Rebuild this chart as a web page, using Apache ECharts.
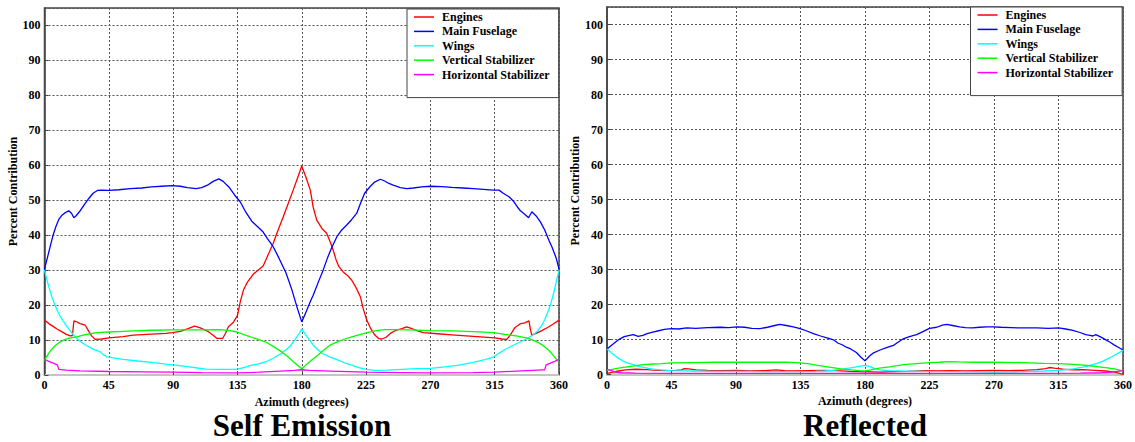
<!DOCTYPE html>
<html>
<head>
<meta charset="utf-8">
<title>Percent Contribution by Azimuth</title>
<script src="https://cdn.jsdelivr.net/npm/echarts@6/dist/echarts.min.js"></script>
<style>
  html, body { margin: 0; padding: 0; background: #fff; }
  #chart { width: 1135px; height: 442px; }
</style>
</head>
<body>
<div id="chart"></div>
<script>
// Component names, in legend order
const components = ['Engines', 'Main Fuselage', 'Wings', 'Vertical Stabilizer', 'Horizontal Stabilizer'];
const componentColors = ['#ff0000', '#0000ff', '#00ffff', '#00ff00', '#ff00ff'];

// Axis ticks
const azimuthTicks = [0, 45, 90, 135, 180, 225, 270, 315, 360];
const percentTicks = [0, 10, 20, 30, 40, 50, 60, 70, 80, 90, 100];

// ---- Self emission: [azimuth (deg), percent contribution] ----
const selfEngines = [
  [0,15.7],[3,14.7],[6,13.9],[9,13.1],[12,12.4],[15,11.7],[18,11.2],[19.5,11.3],[20.6,15.5],[22,15.3],
  [25,14.7],[28.4,14.3],[31,12.5],[33,11.2],[35.4,10.2],[40,10.3],[45,10.6],[55,11.0],[62,11.4],[75,11.7],
  [85,11.9],[89.5,12.1],[95,12.5],[100,13.2],[105,14.0],[109,13.5],[114.7,12.4],[118,11.4],[120.5,10.5],[124.7,10.5],
  [126.5,11.8],[128.7,13.8],[132,15.0],[135,17.0],[137,21.0],[139.2,24.3],[142,26.6],[146,28.8],[150,30.2],[153,31.2],
  [156,34.0],[160,37.6],[163,41.0],[167,45.2],[170,48.5],[174,52.9],[177,56.3],[180,59.8],
  [183,56.5],[186,52.9],[188,48.0],[190.5,44.3],[194,42.0],[197.5,40.5],[200,38.0],[202,35.7],[204,33.0],[206,31.0],
  [209,29.5],[212,28.5],[215,27.1],[218,25.0],[221,22.4],[223,19.0],[225.5,15.7],[228,13.5],[231,11.5],[234,10.4],
  [236,10.3],[239,10.8],[242,11.9],[246,12.8],[250,13.3],[253.5,13.8],[257,13.3],[261,12.6],[265,12.1],[275,11.8],
  [285,11.5],[295,11.2],[305,10.9],[315,10.6],[320,10.3],[323.5,10.2],[326,11.5],[329,13.5],[332.7,14.6],[336,14.9],
  [339,15.5],[340,13.0],[341,11.4],[344,11.9],[348,12.7],[352,13.6],[356,14.6],[360,15.7]
];
const selfFuselage = [
  [0,30.3],[2,33.5],[4,36.8],[6,40.0],[8,42.5],[10,44.5],[12,45.6],[14,46.3],[17,47.0],[19,46.2],
  [20.5,45.0],[22,45.5],[25,47.0],[28,48.8],[31,50.5],[34,52.0],[37,52.8],[40,52.9],[45,52.8],[52,53.0],
  [60,53.3],[68,53.5],[75,53.8],[82,54.0],[89,54.2],[95,54.0],[100,53.6],[106,53.3],[110,53.6],[114,54.3],
  [118,55.4],[122,56.1],[125,55.4],[129,53.8],[133,51.5],[137,49.5],[141,46.5],[145,44.0],[149,42.5],[153,40.9],
  [156,39.0],[160,36.7],[164,33.5],[169,29.2],[173,24.5],[177,19.0],[180,15.2],
  [183,18.0],[186,21.0],[188,22.8],[192,27.0],[195,30.0],[198,33.5],[201,36.5],[204.5,39.5],[208,41.5],[211.5,42.9],
  [215,44.5],[218.5,46.3],[221,49.0],[224,52.0],[228,54.0],[231,55.2],[235,56.0],[238,55.5],[241,54.8],[244,54.3],
  [249,53.6],[253.5,53.3],[258,53.5],[264,53.8],[270,54.0],[278,53.9],[285,53.7],[293,53.5],[300,53.3],[307,53.1],
  [314,52.9],[318,52.9],[321,52.0],[325,51.0],[328,49.8],[331,48.0],[333,47.0],[336,46.0],[338.7,45.0],[341,46.7],
  [344,45.5],[347,43.8],[350,41.5],[353,38.5],[355,36.7],[358,33.5],[360,30.3]
];
const selfWings = [
  [0,30.0],[1.5,27.5],[3,25.3],[5,22.5],[7,20.3],[9,18.4],[11,16.8],[13,15.5],[15,14.3],[17,13.2],
  [20,11.6],[23,10.3],[26,9.3],[30,8.3],[34,7.4],[37,7.0],[39,6.6],[41,5.9],[43.5,5.2],[48,4.9],
  [55,4.5],[65,4.0],[75,3.6],[85,3.1],[90,2.9],[100,2.4],[107,2.0],[113,1.7],[120,1.6],[128,1.6],
  [135,1.7],[140,2.2],[145,2.8],[150,3.2],[155,3.8],[160,4.8],[165,6.0],[169,7.2],[172,8.3],[175,10.0],
  [178,11.8],[180,13.2],
  [182,12.0],[185,10.2],[188,8.6],[191,7.3],[195,6.0],[200,5.1],[205,4.3],[210,3.5],[215,2.8],[220,2.1],
  [225,1.6],[231,1.3],[240,1.4],[250,1.6],[260,1.8],[270,1.9],[280,2.3],[290,2.8],[300,3.6],[308,4.4],
  [314,5.1],[318,6.2],[323,7.5],[328,8.5],[332,9.3],[337,10.3],[342,11.5],[345,12.6],[348,14.3],[350,15.8],
  [352,17.8],[354,20.0],[356,23.0],[358,26.5],[360,30.0]
];
const selfVertStab = [
  [0,4.2],[2,5.6],[4,6.8],[6,7.8],[8,8.6],[11,9.5],[14,10.1],[18,10.6],[22.5,10.9],[27,11.4],
  [32,11.8],[36.5,12.1],[45,12.3],[55,12.5],[62,12.6],[75,12.8],[89.5,12.9],[100,12.9],[110,12.9],[120.5,13.0],
  [125,12.9],[130,12.7],[134.5,12.3],[140,11.5],[145,10.8],[150,10.1],[155.5,9.3],[160,8.2],[165,6.9],[169.5,5.5],
  [173,4.2],[177,2.8],[180,1.8],
  [183,2.9],[187,4.3],[191,5.6],[195,7.0],[200,8.6],[205,9.5],[210,10.3],[215,10.9],[220,11.5],[225.5,12.1],
  [232,12.7],[238,13.0],[245,13.0],[255,12.9],[270,12.7],[285,12.6],[300,12.4],[314,12.1],[322,11.6],[330,11.2],
  [337,10.6],[342,10.0],[346,9.2],[350,8.1],[353,7.0],[356,5.6],[358.5,4.3],[360,3.8]
];
const selfHorizStab = [
  [0,4.5],[3,3.9],[6,3.4],[9,2.9],[10,1.6],[15,1.4],[25,1.2],[45,1.0],[70,0.9],[90,0.8],
  [110,0.7],[135,0.6],[150,0.8],[165,1.1],[175,1.3],[180,1.5],
  [185,1.3],[200,1.1],[225,0.8],[250,0.7],[270,0.6],[300,0.7],[315,0.8],[330,1.1],[345,1.4],[350,1.5],
  [351,2.9],[354,3.4],[357,3.9],[360,4.5]
];

// ---- Reflected: [azimuth (deg), percent contribution] ----
const reflEngines = [
  [0,0.3],[4,0.7],[8,1.0],[13,1.3],[20,1.5],[28,1.4],[35,1.2],[42,1.1],[48,1.2],[52,1.3],
  [54,1.7],[57,1.6],[62,1.3],[70,1.2],[80,1.1],[90,1.2],[100,1.0],[110,1.1],[118,1.3],[124,1.1],
  [130,1.0],[140,1.1],[150,1.2],[160,1.1],[170,0.9],[180,0.8],[190,0.7],[200,0.8],[210,0.9],[220,1.1],
  [230,1.0],[240,1.1],[250,1.0],[260,1.1],[270,1.2],[280,1.1],[290,1.2],[300,1.4],[306,1.7],[309,2.0],
  [312,1.8],[318,1.5],[325,1.3],[332,1.4],[340,1.2],[348,1.0],[354,0.7],[357,0.4],[360,0.0]
];
const reflFuselage = [
  [0,7.3],[3,8.3],[6,9.3],[9,10.2],[12,10.8],[15,11.1],[18.4,11.4],[21.8,10.9],[25,11.2],[28,11.7],
  [32,12.1],[36,12.5],[40,12.9],[45,13.1],[50,13.0],[55.6,13.3],[62,13.2],[70,13.4],[79,13.5],[85,13.4],
  [90.5,13.6],[96,13.5],[101,13.2],[106.7,13.1],[112,13.5],[117,14.0],[120.7,14.3],[125,14.0],[130,13.6],[134.7,13.1],
  [139,12.5],[144,11.7],[149,11.0],[154,10.4],[158,9.9],[161,9.0],[164,8.5],[167,7.8],[170,7.3],[174,6.3],
  [177,5.0],[180,3.9],
  [183,5.2],[186,6.2],[190.5,7.0],[195,7.7],[199.8,8.3],[203,9.2],[206.7,10.2],[211,10.8],[216,11.4],[220,12.2],
  [225,13.2],[230,13.5],[234,14.1],[237,14.3],[241,14.0],[246,13.6],[250,13.4],[255,13.3],[260,13.5],[265,13.6],
  [269.5,13.6],[275,13.5],[282,13.4],[288,13.3],[292.8,13.3],[300,13.3],[308,13.2],[315,13.3],[320,13.0],[325,12.6],
  [330,12.0],[334,11.4],[337,11.2],[339,11.0],[341,11.4],[345,10.6],[348,9.9],[351,9.2],[354,8.4],[357,7.7],
  [360,7.0]
];
const reflWings = [
  [0,7.3],[3,6.2],[6,5.2],[9,4.4],[12,3.7],[15,3.2],[18.4,2.8],[22,2.3],[27,1.9],[32,1.5],
  [38,1.3],[45,1.1],[60,1.0],[75,0.9],[90,0.9],[110,0.8],[135,0.8],[145,0.9],[152,1.0],[158,1.2],
  [165,1.6],[170,1.9],[174,2.2],[177,2.4],[180,2.6],[183,2.3],[186,1.8],[190,1.3],[196,1.1],[205,1.0],
  [222,0.9],[245,0.8],[270,0.7],[290,0.8],[305,1.0],[315,1.2],[325,1.6],[332,2.1],[337,2.6],[342,3.2],
  [346,3.8],[351,4.8],[355,5.7],[358,6.4],[360,6.9]
];
const reflVertStab = [
  [0,1.2],[3,1.4],[6,1.7],[9,1.9],[14,2.2],[18,2.4],[25,2.8],[32,3.0],[38,3.1],[45,3.3],
  [60,3.4],[75,3.5],[90,3.5],[105,3.5],[115,3.5],[125,3.5],[132,3.4],[140,3.1],[147,2.6],[155,2.1],
  [163,1.6],[170,1.3],[176,1.1],[180,1.0],[184,1.3],[190,1.8],[197,2.2],[207,2.8],[216,3.1],[225,3.4],
  [232,3.5],[237,3.7],[245,3.6],[255,3.5],[270,3.5],[290,3.4],[305,3.2],[315,3.1],[325,2.9],[332,2.7],
  [337,2.5],[343,2.2],[349,1.9],[354,1.6],[358,1.2],[360,1.0]
];
const reflHorizStab = [
  [0,1.5],[3,1.1],[6,0.7],[10,0.5],[20,0.4],[45,0.3],[90,0.3],[135,0.3],[160,0.3],[180,0.4],
  [200,0.3],[250,0.3],[300,0.3],[330,0.4],[345,0.5],[352,0.7],[356,0.9],[360,1.1]
];

const selfSeriesData = [selfEngines, selfFuselage, selfWings, selfVertStab, selfHorizStab];
const reflSeriesData = [reflEngines, reflFuselage, reflWings, reflVertStab, reflHorizStab];

const SERIF = 'Liberation Serif, Times New Roman, serif';

function xAxisFor(gridIndex) {
  return {
    type: 'value', gridIndex: gridIndex,
    min: azimuthTicks[0], max: azimuthTicks[azimuthTicks.length - 1], interval: 45,
    name: 'Azimuth (degrees)', nameLocation: 'middle', nameGap: 15,
    nameTextStyle: { fontFamily: SERIF, fontWeight: 'bold', fontSize: 12, lineHeight: 12, color: '#000' },
    axisLine: { show: true, onZero: false, lineStyle: { color: '#c4c4c4', width: 2 } },
    axisTick: { show: true, inside: true, length: 4, lineStyle: { color: '#444' } },
    axisLabel: { margin: 4, fontFamily: SERIF, fontWeight: 'bold', fontSize: 12, color: '#000' },
    splitLine: { show: true, lineStyle: { color: '#555', type: [2, 2], width: 1 } }
  };
}
function yAxisFor(gridIndex) {
  return {
    type: 'value', gridIndex: gridIndex,
    min: percentTicks[0], max: 105, interval: 10,
    name: 'Percent Contribution', nameLocation: 'middle', nameGap: 24,
    nameTextStyle: { fontFamily: SERIF, fontWeight: 'bold', fontSize: 12, color: '#000' },
    axisLine: { show: true, lineStyle: { color: '#444', width: 1.5 } },
    axisTick: { show: true, inside: true, length: 4, lineStyle: { color: '#444' } },
    axisLabel: {
      margin: 4, fontFamily: SERIF, fontWeight: 'bold', fontSize: 12, color: '#000',
      showMaxLabel: false,
      formatter: v => (percentTicks.indexOf(v) >= 0 ? String(v) : '')
    },
    splitLine: { show: true, lineStyle: { color: '#555', type: [2, 2], width: 1 } }
  };
}
function legendFor(left, top) {
  return {
    orient: 'vertical', left: left, top: top,
    data: components,
    icon: 'rect', itemWidth: 20, itemHeight: 1.5, itemGap: 0.4,
    padding: [1, 9, 16, 7],
    backgroundColor: '#fff', borderColor: '#444', borderWidth: 1,
    selectedMode: false,
    textStyle: { fontFamily: SERIF, fontWeight: 'bold', fontSize: 12, lineHeight: 14, color: '#000', padding: [0, 0, 0, 3] }
  };
}
function buildSeries(dataSets, axisIndex) {
  return dataSets.map((d, i) => ({
    name: components[i], type: 'line',
    xAxisIndex: axisIndex, yAxisIndex: axisIndex,
    data: d, showSymbol: false, symbol: 'none', smooth: false,
    lineStyle: { color: componentColors[i], width: 1.3 },
    itemStyle: { color: componentColors[i] },
    emphasis: { disabled: true }, z: 3
  }));
}

const chart = echarts.init(document.getElementById('chart'), null, { renderer: 'svg' });
chart.setOption({
  animation: false,
  backgroundColor: '#fff',
  grid: [
    { left: 44.5, right: 576, top: 8, bottom: 67, show: true, borderColor: '#444', borderWidth: 1.5, backgroundColor: '#fff' },
    { left: 607, right: 12, top: 7, bottom: 67.5, show: true, borderColor: '#444', borderWidth: 1.5, backgroundColor: '#fff' }
  ],
  xAxis: [xAxisFor(0), xAxisFor(1)],
  yAxis: [yAxisFor(0), yAxisFor(1)],
  legend: [legendFor(407, 9), legendFor(970.5, 7)],
  series: buildSeries(selfSeriesData, 0).concat(buildSeries(reflSeriesData, 1)),
  graphic: [
    { type: 'text', x: 302, y: 425,
      style: { text: 'Self Emission', fontFamily: SERIF, fontWeight: 'bold', fontSize: 31, lineHeight: 28, fill: '#000', textAlign: 'center', textVerticalAlign: 'middle' } },
    { type: 'text', x: 865, y: 425,
      style: { text: 'Reflected', fontFamily: SERIF, fontWeight: 'bold', fontSize: 31, lineHeight: 28, fill: '#000', textAlign: 'center', textVerticalAlign: 'middle' } }
  ]
});
</script>
</body>
</html>
